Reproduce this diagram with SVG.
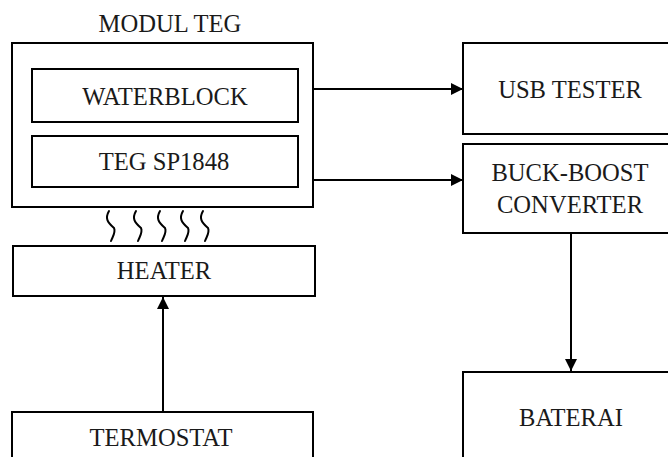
<svg xmlns="http://www.w3.org/2000/svg" width="668" height="457" viewBox="0 0 668 457">
<defs>
<style>
.box{fill:#fff;stroke:#000;stroke-width:2}
.t{font-family:"Liberation Serif","Times New Roman",serif;font-size:24.6px;fill:#1a1a1a;text-anchor:middle}
.ln{fill:none;stroke:#000;stroke-width:2}
.sq{fill:none;stroke:#000;stroke-width:2;stroke-linecap:round}
</style>
<marker id="ah" viewBox="0 0 12 12" refX="12" refY="6" markerWidth="12" markerHeight="12" markerUnits="userSpaceOnUse" orient="auto">
<path d="M0,0 L12,6 L0,12 Z" fill="#000"/>
</marker>
</defs>
<rect width="668" height="457" fill="#fff"/>
<text class="t" x="170" y="32">MODUL TEG</text>
<g id="modul-teg">
<rect class="box" x="12" y="43" width="301" height="164"/>
</g>
<g id="waterblock">
<rect class="box" x="32" y="69" width="266" height="53"/>
<text class="t" x="165" y="105">WATERBLOCK</text>
</g>
<g id="teg-sp1848">
<rect class="box" x="32" y="136" width="266" height="51"/>
<text class="t" x="164" y="170">TEG SP1848</text>
</g>
<g id="heat">
<path class="sq" d="M109,211 C105,218 107,222 114,228 C116,232 113,236 111,241"/>
<path class="sq" d="M136,211 C132,218 134,222 141,228 C143,232 140,236 138,241"/>
<path class="sq" d="M160,211 C156,218 158,222 165,228 C167,232 164,236 162,241"/>
<path class="sq" d="M183,211 C179,218 181,222 188,228 C190,232 187,236 185,241"/>
<path class="sq" d="M203,211 C199,218 201,222 208,228 C210,232 207,236 205,241"/>
</g>
<g id="heater">
<rect class="box" x="13" y="246" width="302" height="50"/>
<text class="t" x="164" y="279">HEATER</text>
</g>
<g id="termostat">
<rect class="box" x="12" y="412" width="301" height="60"/>
<text class="t" x="161" y="446">TERMOSTAT</text>
</g>
<g id="usb-tester">
<rect class="box" x="463" y="43" width="215" height="91"/>
<text class="t" x="570" y="98">USB TESTER</text>
</g>
<g id="buck-boost">
<rect class="box" x="463" y="144" width="215" height="89"/>
<text class="t" x="570" y="181">BUCK-BOOST</text>
<text class="t" x="570" y="213">CONVERTER</text>
</g>
<g id="baterai">
<rect class="box" x="463" y="372" width="215" height="100"/>
<text class="t" x="571" y="426">BATERAI</text>
</g>
<g id="connectors">
<line class="ln" x1="313" y1="89" x2="463" y2="89" marker-end="url(#ah)"/>
<line class="ln" x1="313" y1="180" x2="463" y2="180" marker-end="url(#ah)"/>
<line class="ln" x1="163" y1="412" x2="163" y2="297" marker-end="url(#ah)"/>
<line class="ln" x1="571" y1="233" x2="571" y2="371" marker-end="url(#ah)"/>
</g>
</svg>
